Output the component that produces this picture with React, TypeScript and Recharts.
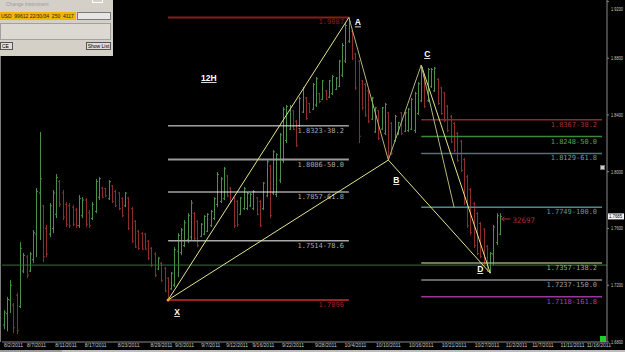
import { ComposedChart, Bar, XAxis, YAxis, ReferenceLine, ReferenceDot } from 'recharts';

// 12H bars, EUR/USD-style quotes, oldest first
const opens = [
  1.6920, 1.7000, 1.7095, 1.7060, 1.7130, 1.7050, 1.7300, 1.7400, 1.7300, 1.7380,
  1.7560, 1.7850, 1.7760, 1.7600, 1.7560, 1.7600, 1.7700, 1.7930, 1.7850, 1.7770,
  1.7760, 1.7750, 1.7730, 1.7620, 1.7690, 1.7800, 1.7710, 1.7670, 1.7720, 1.7820,
  1.7885, 1.7880, 1.7810, 1.7900, 1.7860, 1.7850, 1.7810, 1.7760, 1.7815, 1.7740,
  1.7650, 1.7580, 1.7565, 1.7560, 1.7510, 1.7460, 1.7420, 1.7315, 1.7355, 1.7320,
  1.7250, 1.7175, 1.7200, 1.7440, 1.7430, 1.7480, 1.7520, 1.7540, 1.7705, 1.7650,
  1.7545, 1.7560, 1.7580, 1.7620, 1.7670, 1.7770, 1.7790, 1.7810, 1.7970, 1.7885,
  1.7815, 1.7790, 1.7700, 1.7740, 1.7740, 1.7760, 1.7740, 1.7815, 1.7790, 1.7740,
  1.7830, 1.8040, 1.7850, 1.7840, 1.7940, 1.8080, 1.8220, 1.8300, 1.8430, 1.8355,
  1.8325, 1.8420, 1.8520, 1.8480, 1.8440, 1.8470, 1.8550, 1.8510, 1.8570, 1.8525,
  1.8550, 1.8580, 1.8600, 1.8680, 1.8780, 1.8920, 1.8990, 1.8830, 1.8780, 1.8640,
  1.8615, 1.8570, 1.8370, 1.8280, 1.8430, 1.8300, 1.8270, 1.8415, 1.8340, 1.8220,
  1.8265, 1.8415, 1.8285, 1.8290, 1.8300, 1.8290, 1.8410, 1.8500, 1.8670, 1.8500,
  1.8600, 1.8570, 1.8650, 1.8590, 1.8555, 1.8460, 1.8390, 1.8340, 1.8270, 1.8215,
  1.8085, 1.7965, 1.7875, 1.7775, 1.7705, 1.7635, 1.7595, 1.7475, 1.7295, 1.7420,
  1.7500, 1.7560,
];
const highs = [
  1.7025, 1.7117, 1.7236, 1.7074, 1.7145, 1.7504, 1.7427, 1.7412, 1.7434, 1.7589,
  1.7885, 1.8280, 1.7765, 1.7624, 1.7779, 1.7871, 1.7983, 1.7941, 1.7871, 1.7786,
  1.7779, 1.7765, 1.7744, 1.7835, 1.7821, 1.7814, 1.7730, 1.7786, 1.7948, 1.7962,
  1.7892, 1.7885, 1.7941, 1.7906, 1.7871, 1.7856, 1.7821, 1.7856, 1.7821, 1.7751,
  1.7659, 1.7589, 1.7574, 1.7567, 1.7518, 1.7469, 1.7434, 1.7398, 1.7363, 1.7328,
  1.7257, 1.7293, 1.7469, 1.7567, 1.7603, 1.7659, 1.7708, 1.7800, 1.7715, 1.7659,
  1.7638, 1.7694, 1.7708, 1.7730, 1.7821, 1.7997, 1.7962, 1.8033, 1.7976, 1.7892,
  1.7821, 1.7800, 1.7821, 1.7892, 1.7856, 1.7849, 1.7871, 1.7821, 1.7800, 1.7927,
  1.8082, 1.8047, 1.8153, 1.8131, 1.8273, 1.8456, 1.8470, 1.8470, 1.8435, 1.8364,
  1.8527, 1.8597, 1.8527, 1.8484, 1.8625, 1.8667, 1.8555, 1.8646, 1.8576, 1.8646,
  1.8681, 1.8667, 1.8787, 1.8907, 1.9048, 1.9087, 1.8999, 1.8837, 1.8787, 1.8646,
  1.8625, 1.8576, 1.8527, 1.8456, 1.8435, 1.8456, 1.8484, 1.8421, 1.8350, 1.8400,
  1.8350, 1.8421, 1.8421, 1.8449, 1.8519, 1.8562, 1.8632, 1.8752, 1.8681, 1.8731,
  1.8731, 1.8738, 1.8660, 1.8597, 1.8562, 1.8470, 1.8400, 1.8350, 1.8280, 1.8223,
  1.8096, 1.7976, 1.7885, 1.7786, 1.7715, 1.7645, 1.7603, 1.7483, 1.7434, 1.7624,
  1.7708, 1.7708,
];
const lows = [
  1.6890, 1.6875, 1.7004, 1.6862, 1.6855, 1.7039, 1.7285, 1.7250, 1.7293, 1.7356,
  1.7398, 1.7518, 1.7363, 1.7398, 1.7539, 1.7567, 1.7673, 1.7751, 1.7659, 1.7610,
  1.7603, 1.7617, 1.7603, 1.7603, 1.7673, 1.7610, 1.7603, 1.7659, 1.7708, 1.7800,
  1.7814, 1.7821, 1.7800, 1.7779, 1.7751, 1.7730, 1.7680, 1.7751, 1.7589, 1.7497,
  1.7462, 1.7448, 1.7448, 1.7448, 1.7377, 1.7328, 1.7257, 1.7307, 1.7222, 1.7152,
  1.7096, 1.7166, 1.7187, 1.7257, 1.7412, 1.7469, 1.7497, 1.7518, 1.7518, 1.7469,
  1.7539, 1.7553, 1.7574, 1.7610, 1.7659, 1.7751, 1.7779, 1.7800, 1.7821, 1.7779,
  1.7603, 1.7610, 1.7694, 1.7730, 1.7730, 1.7751, 1.7730, 1.7694, 1.7610, 1.7730,
  1.7821, 1.7673, 1.7835, 1.7821, 1.7920, 1.8061, 1.8202, 1.8294, 1.8294, 1.8174,
  1.8315, 1.8414, 1.8364, 1.8414, 1.8435, 1.8456, 1.8484, 1.8505, 1.8505, 1.8519,
  1.8541, 1.8576, 1.8597, 1.8667, 1.8766, 1.8907, 1.8787, 1.8576, 1.8202, 1.8435,
  1.8385, 1.8343, 1.8364, 1.8273, 1.8223, 1.8294, 1.8258, 1.8082, 1.8117, 1.8209,
  1.8258, 1.8258, 1.8280, 1.8280, 1.8294, 1.8273, 1.8400, 1.8491, 1.8449, 1.8491,
  1.8590, 1.8562, 1.8470, 1.8400, 1.8350, 1.8280, 1.8202, 1.8138, 1.8068, 1.7997,
  1.7765, 1.7603, 1.7553, 1.7462, 1.7412, 1.7391, 1.7342, 1.7293, 1.7285, 1.7342,
  1.7483, 1.7553,
];
const closes = [
  1.7010, 1.7100, 1.7200, 1.6900, 1.6880, 1.7460, 1.7410, 1.7270, 1.7420, 1.7570,
  1.7860, 1.7950, 1.7400, 1.7420, 1.7760, 1.7850, 1.7960, 1.7770, 1.7680, 1.7630,
  1.7620, 1.7630, 1.7620, 1.7810, 1.7800, 1.7630, 1.7620, 1.7770, 1.7930, 1.7950,
  1.7820, 1.7830, 1.7930, 1.7790, 1.7760, 1.7740, 1.7690, 1.7850, 1.7600, 1.7510,
  1.7470, 1.7460, 1.7455, 1.7455, 1.7390, 1.7340, 1.7270, 1.7390, 1.7235, 1.7160,
  1.7110, 1.7285, 1.7450, 1.7550, 1.7590, 1.7640, 1.7690, 1.7780, 1.7530, 1.7480,
  1.7630, 1.7685, 1.7700, 1.7720, 1.7810, 1.7980, 1.7950, 1.8020, 1.7830, 1.7790,
  1.7620, 1.7625, 1.7815, 1.7880, 1.7845, 1.7840, 1.7860, 1.7700, 1.7620, 1.7920,
  1.8070, 1.7690, 1.8140, 1.8120, 1.8260, 1.8440, 1.8460, 1.8460, 1.8300, 1.8185,
  1.8515, 1.8590, 1.8375, 1.8420, 1.8615, 1.8655, 1.8495, 1.8640, 1.8510, 1.8640,
  1.8670, 1.8660, 1.8780, 1.8890, 1.9030, 1.9060, 1.8800, 1.8590, 1.8250, 1.8450,
  1.8400, 1.8355, 1.8520, 1.8450, 1.8235, 1.8450, 1.8475, 1.8110, 1.8130, 1.8390,
  1.8345, 1.8270, 1.8415, 1.8440, 1.8510, 1.8550, 1.8620, 1.8735, 1.8460, 1.8720,
  1.8720, 1.8730, 1.8480, 1.8410, 1.8360, 1.8290, 1.8210, 1.8150, 1.8080, 1.8010,
  1.7780, 1.7620, 1.7570, 1.7480, 1.7425, 1.7405, 1.7355, 1.7305, 1.7425, 1.7610,
  1.7690, 1.7685,
];

const SLOTS = 184; // bars + empty future space
const dateTickIdx = [3, 10, 19, 28, 38, 48, 55, 63, 71, 79, 88, 98, 107, 117, 127, 137, 147, 156, 164, 173, 181];
const dateTickLabels = [
  '8/2/2011', '8/7/2011', '8/11/2011', '8/17/2011', '8/23/2011', '8/29/2011', '9/3/2011',
  '9/7/2011', '9/12/2011', '9/16/2011', '9/22/2011', '9/28/2011', '10/4/2011', '10/10/2011',
  '10/16/2011', '10/21/2011', '10/27/2011', '11/2/2011', '11/7/2011', '11/11/2011', '11/16/2011',
];
const priceTicks = [1.68, 1.72, 1.76, 1.8, 1.84, 1.88, 1.92];

// XABCD points (bar index, price)
const pointNames = ['X', 'A', 'B', 'C', 'D'];
const pointIdx = [50, 105, 117, 127, 148];
const pointPrice = [1.7096, 1.9087, 1.8082, 1.8752, 1.7285];

// retracement of XA, drawn between X and A
const xaLevels = [1.9087, 1.8323, 1.8086, 1.7857, 1.7514, 1.7096];
const xaLabels = ['1.9087', '1.8323-38.2', '1.8086-50.0', '1.7857-61.8', '1.7514-78.6', '1.7096'];
// projection levels drawn from C to the right edge
const cdLevels = [1.8367, 1.8248, 1.8129, 1.7749, 1.7357, 1.7237, 1.7118];
const cdLabels = ['1.8367-38.2', '1.8248-50.0', '1.8129-61.8', '1.7749-100.0', '1.7357-138.2', '1.7237-150.0', '1.7118-161.8'];
const supportLevel = 1.7342;
const lastPrice = 1.7685;
const volumeNote = '32697';
const projEndIdx = 137;
const rightEndIdx = 182;

const xaStyle = [
  { line: '#8c1c1c', text: '#8c2020', w: 2 },
  { line: '#f2f2f2', text: '#a8a8a8', w: 1 },
  { line: '#9a9a9a', text: '#a8a8a8', w: 2 },
  { line: '#f2f2f2', text: '#a8a8a8', w: 1 },
  { line: '#a8a8a8', text: '#a8a8a8', w: 1.5 },
  { line: '#9c2020', text: '#a02424', w: 2 },
];
const cdStyle = [
  { line: '#8c2a2a', text: '#a83434' },
  { line: '#3a8a3a', text: '#4eac4e' },
  { line: '#4c7676', text: '#6aa0a0' },
  { line: '#4f8a8a', text: '#5f9c9c' },
  { line: '#97a368', text: '#9fab6c' },
  { line: '#8a8a8a', text: '#9a9a9a' },
  { line: '#9a379a', text: '#b040b0' },
];

const GREEN = '#4a8f4a';
const RED = '#8f2c2c';
const YELLOW = '#e4e48c';
const KHAKI = '#b4b47a';
const MONO = '"DejaVu Sans Mono", monospace';
const SANS = '"Liberation Sans", Arial, sans-serif';

const rows = Array.from({ length: SLOTS }, (_, i) => ({
  i,
  o: opens[i],
  h: highs[i],
  l: lows[i],
  c: closes[i],
  hl: i < highs.length ? [lows[i], highs[i]] : null,
}));

function OhlcShape(props: any) {
  const { x, y, width, height, payload } = props;
  if (!payload || payload.h == null || !isFinite(y) || !isFinite(height)) return null;
  const cx = Math.round(x + width / 2) + 0.5;
  const span = payload.h - payload.l || 1;
  const oy = y + ((payload.h - payload.o) / span) * height;
  const cy = y + ((payload.h - payload.c) / span) * height;
  const col = payload.c >= payload.o ? GREEN : RED;
  return (
    <g stroke={col} strokeWidth={1}>
      <line x1={cx} x2={cx} y1={y} y2={y + height} />
      <line x1={cx - 1.5} x2={cx} y1={oy} y2={oy} />
      <line x1={cx} x2={cx + 1.5} y1={cy} y2={cy} />
    </g>
  );
}

function PriceTick(props: any) {
  const { y, payload } = props;
  const ty = Math.max(y, 3);
  return (
    <text x={611} y={ty + 2} fill="#c8c8c8" fontSize={4.6} fontFamily={SANS}
      textLength={12} lengthAdjust="spacingAndGlyphs">
      {Number(payload.value).toFixed(4)}
    </text>
  );
}

const levelLabel = (text: string, color: string) => (p: any) => {
  const vb = p.viewBox || {};
  return (
    <text x={vb.x + vb.width - 5} y={vb.y + 7} textAnchor="end" fill={color}
      fontSize={7} fontFamily={MONO}>
      {text}
    </text>
  );
};

const pointLabelOffset = [
  { dx: 9, dy: 15 },
  { dx: 9, dy: 8 },
  { dx: 8, dy: 23 },
  { dx: 6, dy: -8 },
  { dx: -10, dy: -1 },
];

function markText(text: string, dx: number, dy: number) {
  return (p: any) => (
    <text x={p.cx + dx} y={p.cy + dy} textAnchor="middle" fill="#ffffff" fontSize={8.5}
      fontWeight="bold" fontFamily={SANS} textDecoration="underline">
      {text}
    </text>
  );
}

export default function App() {
  const segs: [number, number, string][] = [
    [0, 1, YELLOW], [1, 2, KHAKI], [2, 3, KHAKI], [3, 4, YELLOW], [0, 2, YELLOW], [2, 4, YELLOW],
  ];
  return (
    <div style={{ position: 'absolute', left: 0, top: 0, width: 625, height: 352, background: '#000', overflow: 'hidden' }}>
      {/* scrollbar strip */}
      <div style={{ position: 'absolute', left: 0, top: 350, width: 625, height: 2, background: '#bdbdbd' }} />
      <div style={{ position: 'absolute', left: 0, top: 350, width: 62, height: 2, background: '#9c9c9c' }} />

      <ComposedChart width={625} height={352} data={rows} margin={{ top: 0, right: 0, bottom: 0, left: 2 }}
        barCategoryGap={0} style={{ position: 'absolute', left: 0, top: 0 }}>
        <XAxis dataKey="i" type="category" ticks={dateTickIdx} interval={0}
          tickFormatter={(v: number) => dateTickLabels[dateTickIdx.indexOf(v)] ?? ''}
          height={10} tickLine={false} tickSize={0} tickMargin={1}
          axisLine={{ stroke: '#8a8a8a' }}
          tick={{ fontSize: 5, fill: '#c8c8c8', fontFamily: SANS }} />
        <YAxis orientation="right" width={18} domain={[1.68, 1.921]} ticks={priceTicks} allowDataOverflow
          tickSize={2} axisLine={{ stroke: '#8a8a8a' }} tickLine={{ stroke: '#8a8a8a' }}
          tick={<PriceTick />} />

        <ReferenceLine y={supportLevel} stroke="#3d6f3d" strokeWidth={1} />

        <Bar dataKey={(d: any) => d.hl} shape={OhlcShape} isAnimationActive={false} />

        {xaLevels.map((lv, k) => (
          <ReferenceLine key={'xa' + k} ifOverflow="visible"
            segment={[{ x: pointIdx[0], y: lv }, { x: pointIdx[1], y: lv }]}
            stroke={xaStyle[k].line} strokeWidth={xaStyle[k].w}
            label={levelLabel(xaLabels[k], xaStyle[k].text)} />
        ))}
        {cdLevels.map((lv, k) => (
          <ReferenceLine key={'cd' + k} ifOverflow="visible"
            segment={[{ x: pointIdx[3], y: lv }, { x: rightEndIdx, y: lv }]}
            stroke={cdStyle[k].line} strokeWidth={1.5}
            label={levelLabel(cdLabels[k], cdStyle[k].text)} />
        ))}

        {segs.map(([a, b, col], k) => (
          <ReferenceLine key={'s' + k} ifOverflow="visible"
            segment={[{ x: pointIdx[a], y: pointPrice[a] }, { x: pointIdx[b], y: pointPrice[b] }]}
            stroke={col} strokeWidth={1} />
        ))}
        <ReferenceLine ifOverflow="visible"
          segment={[{ x: pointIdx[3], y: pointPrice[3] }, { x: projEndIdx, y: cdLevels[3] }]}
          stroke={KHAKI} strokeWidth={1} />

        <ReferenceDot x={pointIdx[0]} y={pointPrice[0]} r={1.5} fill="#f0a030" stroke="none" ifOverflow="visible" />

        {pointNames.map((nm, k) => (
          <ReferenceDot key={'p' + nm} x={pointIdx[k]} y={pointPrice[k]} r={0} ifOverflow="visible"
            shape={markText(nm, pointLabelOffset[k].dx, pointLabelOffset[k].dy)} />
        ))}
        <ReferenceDot x={63} y={1.8667} r={0} ifOverflow="visible" shape={markText('12H', -2, 4)} />

        <ReferenceDot x={152} y={1.7667} r={0} ifOverflow="visible"
          shape={(p: any) => (
            <g>
              <line x1={p.cx - 1} x2={p.cx + 7} y1={p.cy} y2={p.cy} stroke="#b03434" strokeWidth={1} />
              <path d={`M${p.cx - 2},${p.cy} L${p.cx + 1},${p.cy - 2} M${p.cx - 2},${p.cy} L${p.cx + 1},${p.cy + 2}`}
                stroke="#b03434" strokeWidth={1} fill="none" />
              <text x={p.cx + 9} y={p.cy + 4} fill="#a83030" fontSize={7.5} fontFamily={MONO}>{volumeNote}</text>
            </g>
          )} />

        <ReferenceLine y={lastPrice} stroke="none" ifOverflow="visible"
          label={(p: any) => {
            const vb = p.viewBox || {};
            return (
              <g>
                <rect x={vb.x + vb.width + 1} y={vb.y - 3} width={16} height={6} fill="#f4f4f4" />
                <text x={vb.x + vb.width + 2} y={vb.y + 2} fill="#000" fontSize={4.6} fontFamily={SANS}
                  textLength={13} lengthAdjust="spacingAndGlyphs">
                  {lastPrice.toFixed(4)}
                </text>
              </g>
            );
          }} />
      </ComposedChart>

      {/* left border */}
      <div style={{ position: 'absolute', left: 0, top: 0, width: 1, height: 342, background: '#7a7a7a' }} />
      {/* small toolbar glyph on the axis */}
      <div style={{ position: 'absolute', left: 600, top: 165, width: 5, height: 5, background: '#cfcfcf', border: '1px solid #777', boxSizing: 'border-box' }} />
      <div style={{ position: 'absolute', left: 600, top: 336, width: 6, height: 6, background: '#22cc22' }} />

      {/* instrument dialog */}
      <div style={{ position: 'absolute', left: 0, top: 0, width: 113, height: 56, background: '#d4d0c8', fontFamily: SANS }}>
        <div style={{ position: 'absolute', left: 6, top: 1, fontSize: 5, color: '#9a9a9a' }}>Change Instrument</div>
        <div style={{ position: 'absolute', left: 0, top: 12, width: 76, height: 8, background: '#f2b600', fontSize: 5, lineHeight: '8px', color: '#222', paddingLeft: 1, boxSizing: 'border-box', whiteSpace: 'nowrap' }}>
          USD&nbsp;&nbsp;99612 22/30/34&nbsp;&nbsp;250&nbsp;&nbsp;4117
        </div>
        <div style={{ position: 'absolute', left: 77, top: 12, width: 34, height: 8, background: '#e6e6e6', border: '1px solid #7a7a7a', boxSizing: 'border-box' }} />
        <div style={{ position: 'absolute', left: 0, top: 23, width: 111, height: 17, background: '#dcd9d2', border: '1px solid #a0a0a0', boxSizing: 'border-box' }} />
        <div style={{ position: 'absolute', left: 0, top: 42, width: 13, height: 8, border: '1px solid #555', background: '#e0ddd6', boxSizing: 'border-box', fontSize: 5, lineHeight: '6px', paddingLeft: 1 }}>CE</div>
        <div style={{ position: 'absolute', left: 86, top: 42, width: 25, height: 8, border: '1px solid #555', background: '#e0ddd6', boxSizing: 'border-box', fontSize: 5, lineHeight: '6px', textAlign: 'center' }}>Show List</div>
      </div>
      <div style={{ position: 'absolute', left: 92, top: 0, width: 11, height: 3, border: '1px solid #fff', borderTop: 'none', boxSizing: 'border-box' }} />
    </div>
  );
}
